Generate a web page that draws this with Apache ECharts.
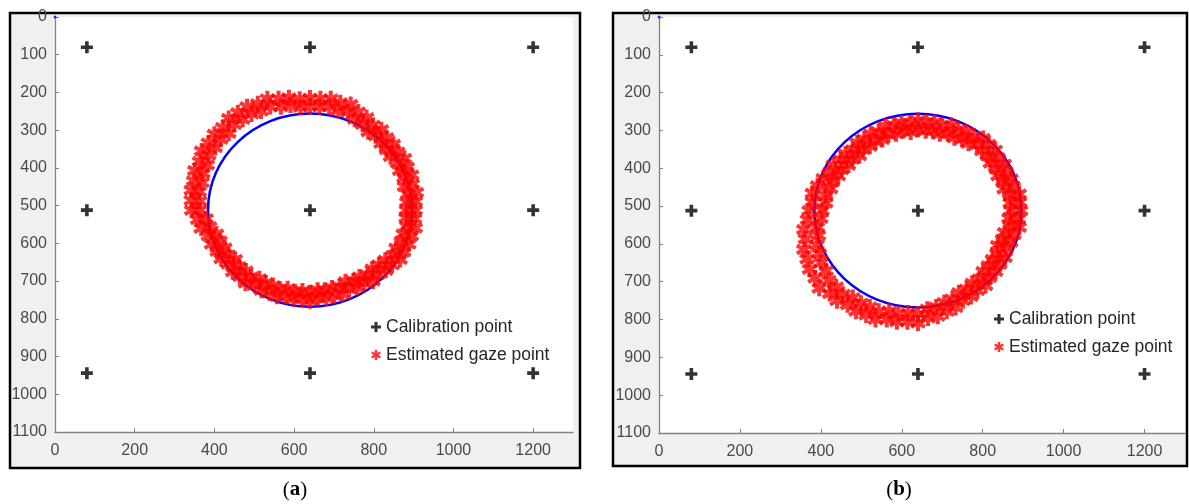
<!DOCTYPE html>
<html>
<head>
<meta charset="utf-8">
<title>Calibration and estimated gaze points</title>
<script src="https://cdn.jsdelivr.net/npm/echarts@6.0.0/dist/echarts.min.js"></script>
<style>
  html, body { margin: 0; padding: 0; background: #fff; }
  #chart { width: 1189px; height: 504px; }
</style>
</head>
<body>
<div id="chart"></div>
<script>
// screen calibration targets (pixels)
const calibPoints = [
  [80, 80], [640, 80], [1200, 80],
  [80, 512], [640, 512], [1200, 512],
  [80, 944], [640, 944], [1200, 944]
];
// target circle: centre x, centre y, radius
const targetCircle = [640, 512, 256];
const originMark = [[0, 0]];

// estimated gaze points
const gazeA = [
  [904,512],[882,512],[902,535],[881,533],[904,559],[883,555],[894,580],[874,575],
  [888,602],[869,595],[875,622],[856,613],[866,643],[848,632],[846,657],[829,645],
  [830,671],[813,657],[810,682],[796,668],[798,700],[784,684],[776,706],[764,689],
  [759,717],[749,700],[738,721],[729,702],[721,735],[714,715],[701,738],[695,718],
  [681,745],[677,724],[660,745],[659,724],[640,752],[640,731],[619,747],[621,726],
  [598,747],[602,728],[579,740],[584,720],[557,740],[564,721],[538,731],[547,712],
  [518,724],[529,705],[501,711],[513,694],[478,705],[492,689],[464,688],[479,673],
  [446,675],[462,662],[435,655],[452,643],[417,641],[435,631],[407,621],[426,612],
  [393,602],[414,594],[385,580],[405,575],[367,560],[388,556],[358,537],[379,535],
  [343,512],[363,512],[342,486],[363,488],[342,459],[362,463],[348,434],[369,439],
  [351,407],[371,414],[363,383],[382,392],[368,355],[386,366],[385,334],[402,346],
  [400,311],[416,324],[421,293],[436,308],[436,269],[450,285],[459,254],[471,271],
  [482,238],[493,257],[509,230],[517,249],[533,217],[540,237],[561,217],[567,238],
  [587,214],[591,233],[614,218],[616,239],[640,215],[640,236],[666,217],[664,238],
  [692,217],[688,238],[716,227],[711,247],[742,232],[735,252],[761,252],[752,271],
  [782,267],[772,284],[798,287],[786,304],[819,299],[805,315],[832,320],[818,335],
  [849,337],[832,351],[860,358],[842,370],[877,375],[859,386],[884,398],[865,407],
  [895,419],[876,426],[897,443],[877,449],[907,465],[886,469],[904,489],[883,491]
];

// estimated gaze points
const gazeB = [
  [894,512],[870,512],[888,534],[865,532],[890,556],[868,552],[877,575],[854,570],
  [869,595],[849,588],[858,613],[837,604],[855,636],[835,625],[842,654],[824,641],
  [832,673],[814,658],[817,689],[801,673],[807,710],[792,693],[787,723],[774,704],
  [771,739],[760,720],[751,750],[741,729],[733,768],[725,746],[711,778],[705,755],
  [689,791],[685,767],[665,796],[663,773],[640,809],[640,786],[614,806],[616,783],
  [588,806],[592,785],[563,800],[569,778],[535,800],[543,778],[512,788],[521,767],
  [487,778],[499,757],[466,761],[479,742],[440,750],[455,733],[422,731],[438,714],
  [396,717],[420,697],[386,690],[413,671],[372,667],[401,650],[366,640],[396,626],
  [358,615],[390,603],[362,587],[394,578],[358,562],[391,556],[367,536],[400,533],
  [371,512],[403,512],[379,489],[412,492],[379,466],[412,472],[392,446],[424,454],
  [406,427],[429,435],[422,411],[443,420],[431,391],[451,403],[449,378],[468,392],
  [461,362],[478,376],[479,351],[495,367],[490,333],[504,350],[507,323],[521,342],
  [523,309],[535,330],[543,304],[552,324],[559,289],[567,311],[580,287],[586,309],
  [599,280],[603,301],[620,281],[622,304],[640,274],[640,297],[661,278],[659,301],
  [681,279],[677,302],[700,287],[694,309],[722,287],[714,309],[740,298],[730,319],
  [760,304],[749,323],[778,315],[765,334],[801,321],[786,338],[815,337],[798,354],
  [831,352],[812,367],[838,373],[819,386],[853,389],[833,401],[858,410],[838,420],
  [870,428],[850,436],[876,449],[853,455],[890,468],[868,472],[891,490],[868,492]
];

const font = '"Liberation Sans", Arial, sans-serif';
const axisGrey = '#808080';
const crossSymbol = 'path://M3.5 0h3v3.5h3.5v3h-3.5v3.5h-3v-3.5h-3.5v-3h3.5z';
// fat six-armed asterisk
const starSymbol = 'path://M7.5 0L12.5 0L12.5 20L7.5 20ZM17.41 2.84L19.91 7.17L2.59 17.17L0.09 12.84ZM19.91 12.84L17.41 17.17L0.09 7.17L2.59 2.84Z';

const chart = echarts.init(document.getElementById('chart'), null, { renderer: 'canvas' });

function plain(v) { return String(v); }

function xAxisFor(i) {
  return {
    gridIndex: i, type: 'value', min: 0, max: 1300, interval: 200,
    axisLine: { onZero: false, lineStyle: { color: axisGrey, width: 1.3 } },
    axisTick: { inside: true, length: 4, lineStyle: { color: axisGrey } },
    axisLabel: { color: '#4a4a4a', fontSize: 16, fontFamily: font, margin: 11, showMaxLabel: false, formatter: plain },
    splitLine: { show: false }
  };
}
function yAxisFor(i) {
  return {
    gridIndex: i, type: 'value', inverse: true, min: 0, max: 1100, interval: 100,
    axisLine: { onZero: false, lineStyle: { color: axisGrey, width: 1.3 } },
    axisTick: { inside: true, length: 4, lineStyle: { color: axisGrey } },
    axisLabel: { color: '#4a4a4a', fontSize: 16, fontFamily: font, margin: 8, formatter: plain },
    splitLine: { show: false }
  };
}

function panelSeries(i, gaze) {
  return [
    {
      type: 'custom', xAxisIndex: i, yAxisIndex: i, silent: true,
      data: [targetCircle],
      renderItem: function (params, api) {
        const c = api.coord([api.value(0), api.value(1)]);
        const ex = api.coord([api.value(0) + api.value(2), api.value(1)]);
        const ey = api.coord([api.value(0), api.value(1) + api.value(2)]);
        return {
          type: 'ellipse',
          shape: { cx: c[0], cy: c[1], rx: Math.abs(ex[0] - c[0]), ry: Math.abs(ey[1] - c[1]) },
          style: { fill: 'none', stroke: '#0000ff', lineWidth: 2.5 }
        };
      }
    },
    {
      type: 'scatter', xAxisIndex: i, yAxisIndex: i, silent: true,
      data: originMark, symbol: 'circle', symbolSize: 3,
      itemStyle: { color: '#0000ff' }
    },
    {
      name: 'Calibration point', type: 'scatter', xAxisIndex: i, yAxisIndex: i,
      data: calibPoints, symbol: crossSymbol, symbolSize: 12,
      itemStyle: { color: '#000' }
    },
    {
      name: 'Estimated gaze point', type: 'scatter', xAxisIndex: i, yAxisIndex: i,
      data: gaze, symbol: starSymbol, symbolSize: 16,
      itemStyle: { color: '#ff0000' }
    }
  ];
}

const legendBase = {
  data: ['Calibration point', 'Estimated gaze point'],
  orient: 'vertical', itemWidth: 10, itemHeight: 10, itemGap: 10,
  selectedMode: false,
  textStyle: { fontSize: 17.5, color: '#262626', fontFamily: font }
};

chart.setOption({
  animation: false,
  backgroundColor: '#fff',
  graphic: [
    { type: 'rect', z: -10, shape: { x: 10, y: 13, width: 570, height: 455 },
      style: { fill: '#f0f0f0', stroke: '#000', lineWidth: 2.5 } },
    { type: 'rect', z: -10, shape: { x: 613, y: 13, width: 574, height: 453 },
      style: { fill: '#f0f0f0', stroke: '#000', lineWidth: 2.5 } },
    { type: 'text', x: 295, y: 490,
      style: { text: '{p|(}{l|a}{p|)}', align: 'center', verticalAlign: 'middle',
        rich: { p: { fontFamily: '"Liberation Serif", serif', fontSize: 21, fill: '#000' },
                l: { fontFamily: '"Liberation Serif", serif', fontSize: 21, fontWeight: 'bold', fill: '#000' } } } },
    { type: 'text', x: 899, y: 490,
      style: { text: '{p|(}{l|b}{p|)}', align: 'center', verticalAlign: 'middle',
        rich: { p: { fontFamily: '"Liberation Serif", serif', fontSize: 21, fill: '#000' },
                l: { fontFamily: '"Liberation Serif", serif', fontSize: 21, fontWeight: 'bold', fill: '#000' } } } }
  ],
  grid: [
    { left: 55, top: 17, width: 518, height: 415, show: true, backgroundColor: '#fff', borderWidth: 0, containLabel: false, outerBoundsMode: 'none' },
    { left: 659, top: 17, width: 526, height: 416, show: true, backgroundColor: '#fff', borderWidth: 0, containLabel: false, outerBoundsMode: 'none' }
  ],
  legend: [
    Object.assign({}, legendBase, { left: 366, top: 313 }),
    Object.assign({}, legendBase, { left: 989, top: 305 })
  ],
  xAxis: [xAxisFor(0), xAxisFor(1)],
  yAxis: [yAxisFor(0), yAxisFor(1)],
  series: panelSeries(0, gazeA).concat(panelSeries(1, gazeB))
});
</script>
</body>
</html>
